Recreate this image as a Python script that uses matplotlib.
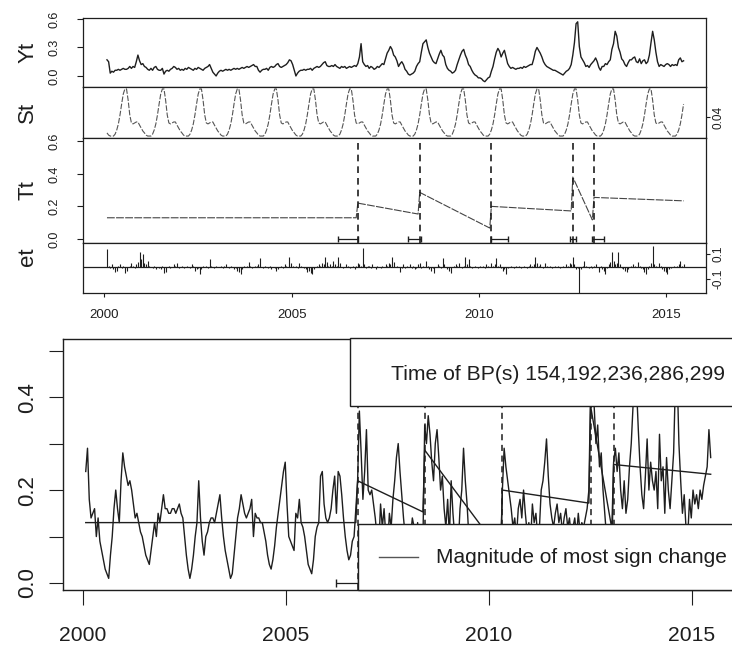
import numpy as np
import matplotlib.pyplot as plt
from matplotlib.patches import Rectangle

# 23 observations a year, first one just after 2000.0
start_year = 2000.07
obs_per_year = 23

# top panel, Yt (one row per year)
yt_top = [
    0.17, 0.15, 0.03, 0.05, 0.04, 0.06, 0.06, 0.07, 0.06, 0.07, 0.08, 0.07, 0.07, 0.08, 0.1, 0.08, 0.1, 0.09, 0.15, 0.22, 0.16, 0.12, 0.13,
    0.1, 0.09, 0.07, 0.06, 0.08, 0.06, 0.09, 0.1, 0.07, 0.06, 0.06, 0.08, 0.02, 0.05, 0.06, 0.05, 0.07, 0.08, 0.1, 0.09, 0.07, 0.08, 0.06,
    0.07, 0.06, 0.08, 0.07, 0.09, 0.08, 0.07, 0.06, 0.08, 0.07, 0.09, 0.08, 0.07, 0.06, 0.08, 0.09, 0.1, 0.12, 0.08, 0.04, 0.02, 0.0, 0.03,
    0.05, 0.06, 0.05, 0.06, 0.07, 0.06, 0.07, 0.06, 0.07, 0.08, 0.07, 0.08, 0.07, 0.08, 0.09, 0.08, 0.09, 0.1, 0.09, 0.1, 0.11, 0.12, 0.1,
    0.1, 0.06, 0.04, 0.06, 0.07, 0.07, 0.08, 0.06, 0.09, 0.1, 0.09, 0.1, 0.12, 0.13, 0.1, 0.09, 0.1, 0.11, 0.12, 0.14, 0.17, 0.16, 0.12,
    0.06, 0.0, 0.03, 0.05, 0.06, 0.06, 0.07, 0.06, 0.07, 0.07, 0.08, 0.06, 0.08, 0.09, 0.1, 0.09, 0.1, 0.12, 0.14, 0.15, 0.11, 0.1, 0.1,
    0.11, 0.1, 0.12, 0.1, 0.09, 0.08, 0.1, 0.09, 0.1, 0.08, 0.09, 0.1, 0.09, 0.1, 0.11, 0.1, 0.13, 0.2, 0.34, 0.15, 0.12, 0.1, 0.11,
    0.08, 0.1, 0.09, 0.07, 0.08, 0.1, 0.09, 0.11, 0.13, 0.12, 0.18, 0.24, 0.27, 0.31, 0.28, 0.22, 0.2, 0.16, 0.1, 0.13, 0.15, 0.12, 0.07,
    0.05, 0.02, 0.01, 0.02, 0.03, 0.05, 0.1, 0.13, 0.15, 0.25, 0.34, 0.36, 0.38, 0.3, 0.24, 0.2, 0.16, 0.14, 0.13, 0.18, 0.23, 0.27, 0.22,
    0.2, 0.12, 0.08, 0.06, 0.05, 0.03, 0.04, 0.06, 0.12, 0.17, 0.22, 0.26, 0.28, 0.22, 0.18, 0.12, 0.1, 0.06, 0.03, 0.01, 0.0, -0.02, -0.02,
    -0.03, -0.05, -0.06, -0.04, -0.02, -0.01, 0.05, 0.1, 0.18, 0.25, 0.29, 0.26, 0.2, 0.24, 0.27, 0.2, 0.13, 0.1, 0.08, 0.09, 0.08, 0.07, 0.08,
    0.08, 0.09, 0.08, 0.1, 0.09, 0.1, 0.11, 0.12, 0.12, 0.18, 0.26, 0.3, 0.27, 0.24, 0.2, 0.15, 0.12, 0.1, 0.09, 0.08, 0.07, 0.06, 0.06,
    0.05, 0.04, 0.03, 0.02, 0.01, 0.03, 0.05, 0.06, 0.08, 0.12, 0.22, 0.35, 0.55, 0.57, 0.31, 0.2, 0.17, 0.14, 0.1, 0.11, 0.09, 0.12, 0.14,
    0.16, 0.19, 0.15, 0.09, 0.06, 0.1, 0.1, 0.13, 0.12, 0.15, 0.17, 0.28, 0.34, 0.47, 0.42, 0.3, 0.25, 0.18, 0.16, 0.12, 0.1, 0.14, 0.17,
    0.17, 0.19, 0.2, 0.15, 0.14, 0.18, 0.13, 0.16, 0.17, 0.13, 0.15, 0.22, 0.35, 0.47, 0.38, 0.25, 0.15, 0.1, 0.12, 0.11, 0.1, 0.12, 0.13,
    0.12, 0.1, 0.12, 0.11, 0.12, 0.11, 0.17, 0.19, 0.15, 0.16,
]

# seasonal profile St, one year (repeats every year)
season = [-0.024, -0.033, -0.037, -0.037, -0.037, -0.029, -0.012, 0.013, 0.05, 0.095, 0.136, 0.157,
          0.157, 0.111, 0.05, 0.017, 0.013, 0.017, 0.021, 0.021, 0.008, -0.004, -0.016]

# remainder et
et = [
    0.14, 0.01, -0.01, 0.02, -0.02, -0.04, -0.03, 0.01, 0.02, -0.01, 0.01, -0.05, -0.03, 0.0, 0.01, 0.03, 0.01, -0.01, 0.02, 0.04, 0.12, 0.06, 0.10,
    0.03, 0.02, 0.05, 0.01, 0.0, -0.01, 0.01, -0.02, 0.0, -0.01, -0.02, 0.01, -0.05, -0.04, 0.0, 0.01, -0.01, 0.0, 0.02, 0.01, 0.03, -0.01, 0.0,
    0.01, -0.01, 0.0, 0.01, 0.0, -0.01, 0.02, 0.01, -0.03, -0.02, -0.01, -0.06, -0.02, 0.01, 0.0, 0.01, -0.01, 0.06, 0.01, 0.0, -0.01, 0.01, 0.0,
    0.0, 0.01, -0.01, 0.01, 0.02, 0.0, -0.01, 0.01, 0.0, -0.02, -0.01, -0.03, -0.04, -0.06, -0.02, 0.01, 0.0, 0.01, 0.04, 0.01, -0.01, 0.0, 0.01,
    0.01, 0.02, 0.07, 0.0, -0.01, 0.01, 0.0, -0.01, 0.01, -0.02, 0.0, -0.01, -0.03, -0.02, 0.0, 0.01, -0.01, 0.02, 0.01, 0.0, 0.08, 0.03, 0.01,
    0.0, 0.01, -0.01, 0.03, 0.01, 0.0, -0.01, -0.02, -0.04, -0.03, -0.05, -0.06, -0.02, 0.0, 0.01, 0.02, 0.01, 0.03, 0.02, 0.08, 0.04, 0.01, 0.02,
    0.01, 0.05, 0.02, 0.01, 0.08, 0.03, 0.0, -0.01, 0.0, 0.02, 0.01, -0.01, 0.0, 0.01, -0.02, 0.01, 0.03, 0.02, 0.01, 0.15, 0.02, -0.01, 0.01,
    0.01, -0.01, 0.02, 0.0, -0.02, 0.01, 0.0, -0.01, 0.01, 0.0, 0.02, 0.01, 0.03, 0.02, 0.08, 0.04, 0.0, 0.01, 0.0, -0.04, -0.01, 0.02, -0.01,
    0.01, 0.0, 0.02, -0.01, 0.01, -0.02, -0.01, 0.02, 0.03, -0.01, 0.01, 0.0, 0.05, 0.01, -0.02, -0.03, -0.01, -0.05, 0.0, 0.02, 0.01, -0.01, 0.07,
    0.02, 0.0, -0.02, -0.03, -0.05, 0.0, 0.01, 0.02, 0.01, 0.03, 0.0, -0.01, 0.01, 0.08, 0.02, 0.06, 0.01, -0.01, 0.0, 0.01, 0.0, -0.01, 0.01,
    0.0, 0.01, -0.01, 0.02, 0.01, 0.0, 0.03, 0.01, 0.02, 0.07, 0.01, 0.02, -0.01, -0.03, -0.02, -0.06, -0.01, 0.0, 0.01, 0.0, -0.01, 0.01, 0.0,
    0.01, -0.01, 0.0, 0.01, 0.0, -0.01, 0.01, 0.02, 0.01, 0.02, 0.08, 0.03, 0.01, 0.02, 0.0, -0.01, 0.03, 0.01, 0.0, 0.01, -0.01, 0.0, 0.01,
    0.0, 0.01, -0.01, 0.0, 0.01, 0.0, 0.02, 0.01, 0.03, 0.02, 0.08, 0.02, -0.02, -0.01, -0.21, -0.02, 0.01, 0.05, 0.01, 0.0, -0.01, 0.01, -0.01,
    0.01, 0.02, 0.0, -0.04, 0.01, -0.02, -0.03, -0.06, -0.01, 0.02, 0.04, 0.12, 0.05, 0.02, 0.03, 0.12, 0.02, -0.01, -0.02, -0.03, -0.04, -0.02, 0.0,
    0.01, 0.02, 0.01, 0.0, 0.04, 0.01, -0.01, -0.02, -0.04, -0.06, -0.02, 0.01, 0.03, 0.17, 0.02, 0.01, 0.0, 0.03, 0.01, -0.02, -0.03, -0.04, -0.06,
    -0.02, -0.01, 0.0, 0.01, 0.0, 0.01, 0.02, 0.05, 0.01, 0.02,
]

# lower plot, observed series
ndvi = [
    0.24, 0.29, 0.18, 0.14, 0.15, 0.16, 0.10, 0.14, 0.09, 0.07, 0.05, 0.03, 0.02, 0.01, 0.06, 0.10, 0.16, 0.20, 0.16, 0.13, 0.22, 0.28, 0.25,
    0.23, 0.21, 0.22, 0.2, 0.17, 0.14, 0.15, 0.13, 0.11, 0.10, 0.08, 0.06, 0.05, 0.04, 0.07, 0.1, 0.13, 0.1, 0.15, 0.13, 0.16, 0.19, 0.16,
    0.16, 0.15, 0.15, 0.16, 0.16, 0.15, 0.16, 0.17, 0.15, 0.14, 0.10, 0.06, 0.03, 0.01, 0.03, 0.06, 0.1, 0.13, 0.22, 0.14, 0.09, 0.06, 0.1,
    0.11, 0.13, 0.14, 0.14, 0.13, 0.15, 0.17, 0.19, 0.14, 0.1, 0.07, 0.05, 0.03, 0.01, 0.02, 0.06, 0.1, 0.14, 0.16, 0.19, 0.17, 0.15, 0.14,
    0.15, 0.16, 0.18, 0.10, 0.15, 0.14, 0.14, 0.13, 0.13, 0.11, 0.09, 0.06, 0.04, 0.03, 0.05, 0.08, 0.12, 0.15, 0.18, 0.21, 0.24, 0.26, 0.17,
    0.1, 0.09, 0.08, 0.07, 0.15, 0.14, 0.18, 0.13, 0.12, 0.10, 0.07, 0.04, 0.03, 0.02, 0.05, 0.1, 0.12, 0.13, 0.23, 0.24, 0.17, 0.14, 0.13,
    0.14, 0.16, 0.2, 0.23, 0.15, 0.24, 0.23, 0.19, 0.14, 0.1, 0.07, 0.05, 0.06, 0.09, 0.1, 0.16, 0.22, 0.37, 0.28, 0.18, 0.24, 0.33, 0.2,
    0.19, 0.2, 0.17, 0.14, 0.1, 0.08, 0.17, 0.12, 0.16, 0.1, 0.08, 0.15, 0.12, 0.18, 0.22, 0.27, 0.30, 0.24, 0.19, 0.14, 0.1, 0.12, 0.08,
    0.1, 0.14, 0.12, 0.08, 0.13, 0.06, 0.11, 0.09, 0.34, 0.3, 0.36, 0.32, 0.26, 0.22, 0.3, 0.33, 0.27, 0.2, 0.23, 0.16, 0.12, 0.18, 0.1,
    0.22, 0.15, 0.1, 0.12, 0.08, 0.16, 0.2, 0.29, 0.22, 0.17, 0.1, 0.06, 0.04, 0.08, 0.05, 0.03, 0.06, 0.09, 0.04, 0.07, 0.05, 0.08, 0.03,
    0.05, 0.08, 0.04, 0.06, 0.03, 0.05, 0.2, 0.29, 0.25, 0.22, 0.19, 0.16, 0.12, 0.14, 0.1, 0.16, 0.18, 0.14, 0.2, 0.15, 0.11, 0.13, 0.09,
    0.17, 0.13, 0.15, 0.1, 0.12, 0.2, 0.22, 0.26, 0.31, 0.23, 0.17, 0.14, 0.12, 0.15, 0.17, 0.13, 0.15, 0.11, 0.14, 0.16, 0.12, 0.14, 0.1,
    0.12, 0.14, 0.1, 0.15, 0.11, 0.13, 0.12, 0.14, 0.16, 0.2, 0.42, 0.45, 0.38, 0.3, 0.34, 0.25, 0.28, 0.2, 0.15, 0.1, 0.08, 0.06, 0.05,
    0.26, 0.29, 0.24, 0.28, 0.2, 0.16, 0.22, 0.15, 0.18, 0.25, 0.3, 0.38, 0.44, 0.42, 0.33, 0.25, 0.19, 0.16, 0.23, 0.31, 0.2, 0.26, 0.22,
    0.2, 0.24, 0.16, 0.32, 0.22, 0.25, 0.15, 0.27, 0.2, 0.16, 0.22, 0.28, 0.43, 0.45, 0.3, 0.22, 0.15, 0.19, 0.12, 0.1, 0.18, 0.14, 0.2,
    0.17, 0.19, 0.16, 0.2, 0.18, 0.21, 0.23, 0.25, 0.33, 0.27,
]

# breakpoints (observation index) and fitted trend per segment
bp_index = [154, 192, 236, 286, 299]
trend_start = [0.13, 0.22, 0.286, 0.20, 0.38, 0.255]
trend_end = [0.13, 0.153, 0.067, 0.172, 0.117, 0.234]
ci_low = [142, 185, 236, 284, 298]
ci_high = [154, 193, 246, 288, 305]

years = [2000, 2005, 2010, 2015]
panel_names = ["Yt", "St", "Tt", "et"]
bp_text = "Time of BP(s) " + ",".join(str(b) for b in bp_index)
legend_text = "Magnitude of most sign change"

W, H = 732, 652
ink = "#1e1e1e"
font = ["Liberation Sans", "DejaVu Sans"]

n = len(ndvi)
t = start_year + np.arange(n) / obs_per_year
t_bp = t[bp_index]
seasonal = np.tile(season, n // obs_per_year + 1)[:n]

# trend polyline: start and end of every segment
seg_start = [0] + bp_index
seg_end = [b - 1 for b in bp_index] + [n - 1]
trend_x, trend_y = [], []
for s, e, v0, v1 in zip(seg_start, seg_end, trend_start, trend_end):
    trend_x += [t[s], t[e]]
    trend_y += [v0, v1]

fig = plt.figure(figsize=(W / 100, H / 100), dpi=100)


def add_px_axes(x0, y0, x1, y1):
    return fig.add_axes([x0 / W, 1 - y1 / H, (x1 - x0) / W, (y1 - y0) / H])


def style(ax, lw=0.9):
    for sp in ax.spines.values():
        sp.set_linewidth(lw)
        sp.set_color(ink)
    ax.tick_params(colors=ink, width=0.8)


# ---- upper figure: decomposition panels ----
rows = [(18, 87), (87, 138), (138, 243), (243, 293)]
axs = [add_px_axes(83, y0, 706, y1) for y0, y1 in rows]
ax_yt, ax_st, ax_tt, ax_et = axs
for ax, name in zip(axs, panel_names):
    style(ax)
    ax.set_xlim(1999.43, 2016.06)
    ax.set_xticks([])
    ax.set_ylabel(name, fontsize=16, family=font, color=ink, rotation=90)
    ax.yaxis.set_label_coords(-0.072, 0.5)
ax_et.yaxis.set_label_coords(-0.072, 0.72)

ax_yt.plot(t, yt_top, color=ink, lw=1.0)
ax_yt.set_ylim(-0.116, 0.61)
ax_yt.set_yticks([0.0, 0.3, 0.6], ["0.0", "0.3", "0.6"])

ax_st.plot(t, seasonal, color="#555555", lw=0.8, ls=(0, (5, 1.5)))
ax_st.set_ylim(-0.045, 0.165)
ax_st.yaxis.tick_right()
ax_st.set_yticks([0.04], ["0.04"])

ax_tt.plot(trend_x, trend_y, color="#444444", lw=0.8, ls=(0, (7, 1.2)))
for xb in t_bp:
    ax_tt.axvline(xb, color=ink, lw=1.2, ls=(0, (4, 3)))
ax_tt.errorbar(t_bp, np.zeros(len(bp_index)),
               xerr=[t_bp - t[ci_low], t[ci_high] - t_bp],
               fmt="none", ecolor=ink, elinewidth=0.9, capsize=2)
ax_tt.set_ylim(-0.025, 0.62)
ax_tt.set_yticks([0.0, 0.2, 0.4, 0.6], ["0.0", "0.2", "0.4", "0.6"])

ax_et.vlines(t, 0, et, color=ink, lw=0.8)
ax_et.axhline(0, color=ink, lw=0.9)
ax_et.set_ylim(-0.21, 0.19)
ax_et.yaxis.tick_right()
ax_et.set_yticks([-0.1, 0.1], ["-0.1", "0.1"])
ax_et.set_xticks(years, [str(y) for y in years])
ax_et.tick_params(axis="x", length=3, pad=13, labelsize=9.5)

for ax in axs:
    ax.tick_params(axis="y", length=4, pad=12, labelsize=9, labelrotation=90)
for ax in (ax_st, ax_et):
    ax.tick_params(axis="y", length=3, pad=2, labelsize=8.5)
for ax in axs:
    for lab in ax.get_yticklabels() + ax.get_xticklabels():
        lab.set_family(font)
        lab.set_va("center")

# ---- lower figure: series with fitted trend ----
ax = add_px_axes(63, 339, 735, 590)
style(ax, lw=1.0)
ax.plot(t, ndvi, color=ink, lw=1.0, zorder=2)
ax.plot(trend_x, trend_y, color=ink, lw=1.0, zorder=3)
for xb in t_bp:
    ax.axvline(xb, color=ink, lw=1.1, ls=(0, (4, 3)), zorder=2)
ax.errorbar(t_bp[:1], [0.0], xerr=[t_bp[:1] - t[ci_low[:1]], t[ci_high[:1]] - t_bp[:1]],
            fmt="none", ecolor=ink, elinewidth=0.9, capsize=3, zorder=3)
ax.set_xlim(1999.51, 2016.06)
ax.set_ylim(-0.015, 0.525)
ax.set_xticks(years, [str(y) for y in years])
yt_vals = [0.0, 0.1, 0.2, 0.3, 0.4, 0.5]
ax.set_yticks(yt_vals, ["0.0", "", "0.2", "", "0.4", ""])
ax.tick_params(axis="x", length=11, pad=15, labelsize=15.2)
ax.tick_params(axis="y", length=10, pad=8, labelsize=16, labelrotation=90)
for lab in ax.get_yticklabels() + ax.get_xticklabels():
    lab.set_family(font)
for lab in ax.get_yticklabels():
    lab.set_va("center")

# legend boxes (drawn over the data, as R does)
box1 = Rectangle((0.427, 0.733), 0.6, 0.27, transform=ax.transAxes,
                 facecolor="white", edgecolor=ink, lw=1.0, zorder=6, clip_on=False)
box2 = Rectangle((0.439, 0.0), 0.6, 0.263, transform=ax.transAxes,
                 facecolor="white", edgecolor=ink, lw=1.0, zorder=6, clip_on=False)
ax.add_patch(box1)
ax.add_patch(box2)
ax.text(0.737, 0.857, bp_text, transform=ax.transAxes, ha="center", va="center",
        fontsize=15.2, family=font, color=ink, zorder=7)
ax.plot([0.470, 0.528], [0.131, 0.131], transform=ax.transAxes, color="#555555",
        lw=1.0, zorder=7, clip_on=False)
ax.text(0.555, 0.131, legend_text, transform=ax.transAxes, ha="left", va="center",
        fontsize=15, family=font, color=ink, zorder=7)

fig.savefig("out.png", dpi=100, facecolor="white")
